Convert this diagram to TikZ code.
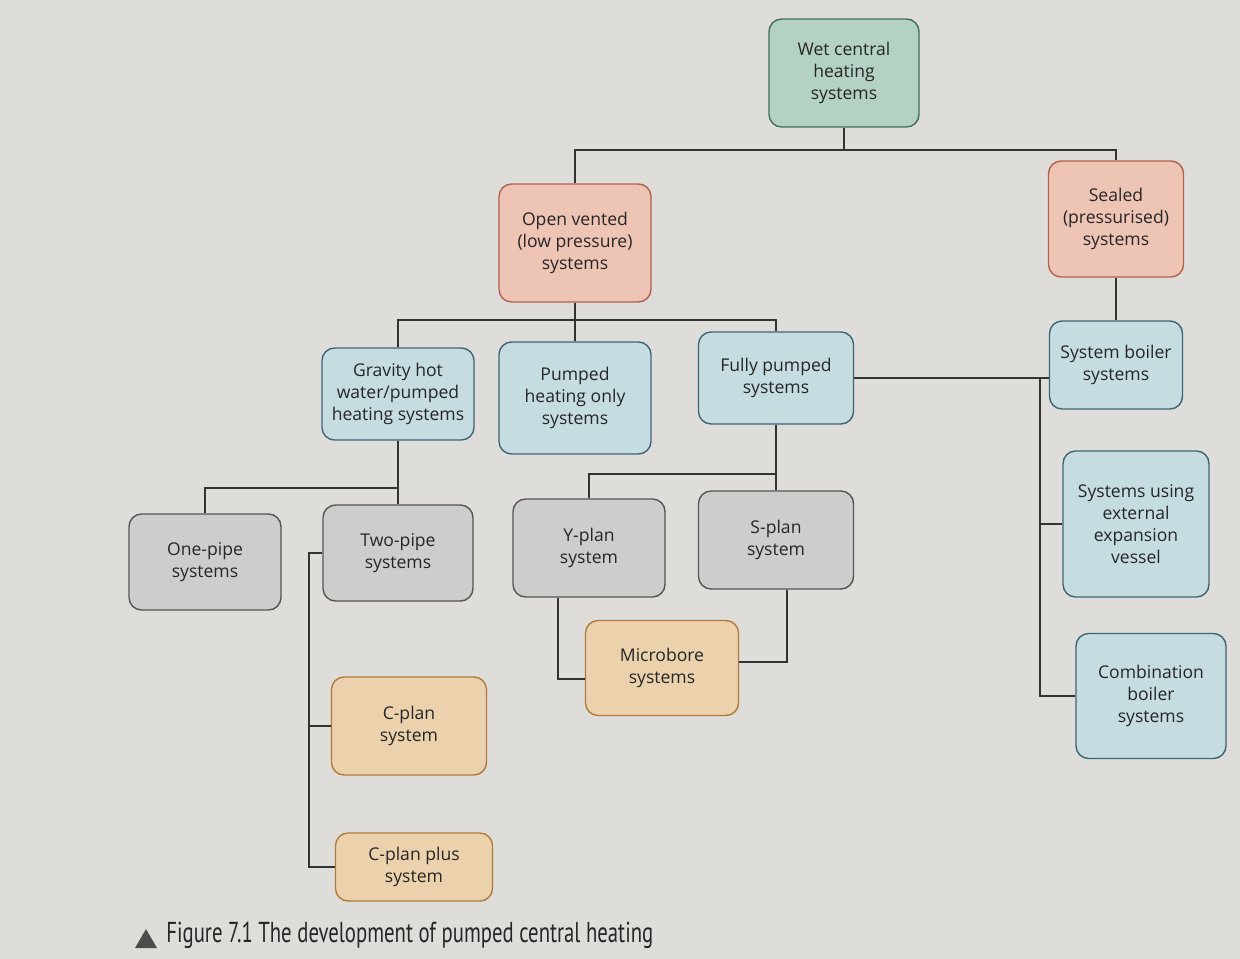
\documentclass[tikz,border=0pt]{standalone}
\usepackage{fontspec}
\setmainfont{Open Sans}
\newfontfamily\capfont[FakeStretch=0.72]{PT Sans}
\usepackage{tikz}
\usetikzlibrary{positioning}
\usepackage{xcolor}

\definecolor{paper}{HTML}{DFDDD9}
\definecolor{wetfill}{HTML}{B3D2C3}
\definecolor{wetline}{HTML}{3F6D5F}
\definecolor{redfill}{HTML}{EEC4B4}
\definecolor{redline}{HTML}{B0604C}
\definecolor{bluefill}{HTML}{C5DCE1}
\definecolor{blueline}{HTML}{3F6478}
\definecolor{greyfill}{HTML}{CDCDCC}
\definecolor{greyline}{HTML}{555555}
\definecolor{tanfill}{HTML}{EBD1AC}
\definecolor{tanline}{HTML}{B07A3C}
\definecolor{linkgrey}{HTML}{333333}

\tikzset{
  box/.style={draw, rounded corners=0.25cm, line width=0.8pt, align=center,
    inner sep=2pt, text=black!85, font=\fontsize{10}{12.5}\selectfont},
  wetbox/.style={box, fill=wetfill, draw=wetline},
  redbox/.style={box, fill=redfill, draw=redline},
  bluebox/.style={box, fill=bluefill, draw=blueline},
  greybox/.style={box, fill=greyfill, draw=greyline},
  tanbox/.style={box, fill=tanfill, draw=tanline},
  link/.style={line width=0.7pt, draw=linkgrey}
}

\begin{document}
\begin{tikzpicture}[x=0.02cm, y=-0.02cm]
    % Fundo da página
    \fill[paper] (0,0) rectangle (1240,959);
    \useasboundingbox (0,0) rectangle (1240,959);

    % Topo
    \node[wetbox, minimum width=3cm, minimum height=2.16cm] (wet) at (844,73) {Wet central\\heating\\systems};
    \node[redbox, minimum width=3.04cm, minimum height=2.36cm] (open) at (575,243) {Open vented\\(low pressure)\\systems};
    \node[redbox, minimum width=2.7cm, minimum height=2.32cm] (sealed) at (1116,219) {Sealed\\(pressurised)\\systems};

    % Segundo nível
    \node[bluebox, minimum width=3.04cm, minimum height=1.84cm] (gravity) at (398,394) {Gravity hot\\water/pumped\\heating systems};
    \node[bluebox, minimum width=3.04cm, minimum height=2.24cm] (pumped) at (575,398) {Pumped\\heating only\\systems};
    \node[bluebox, minimum width=3.1cm, minimum height=1.84cm] (fully) at (776,378) {Fully pumped\\systems};
    \node[bluebox, minimum width=2.66cm, minimum height=1.76cm] (sysboiler) at (1116,365) {System boiler\\systems};
    \node[bluebox, minimum width=2.92cm, minimum height=2.92cm] (extvessel) at (1136,524) {Systems using\\external\\expansion\\vessel};
    \node[bluebox, minimum width=3cm, minimum height=2.5cm] (combi) at (1151,696) {Combination\\boiler\\systems};

    % Terceiro nível
    \node[greybox, minimum width=3.04cm, minimum height=1.92cm] (onepipe) at (205,562) {One-pipe\\systems};
    \node[greybox, minimum width=3cm, minimum height=1.92cm] (twopipe) at (398,553) {Two-pipe\\systems};
    \node[greybox, minimum width=3.04cm, minimum height=1.96cm] (yplan) at (589,548) {Y-plan\\system};
    \node[greybox, minimum width=3.1cm, minimum height=1.96cm] (splan) at (776,540) {S-plan\\system};

    % Quarto nível
    \node[tanbox, minimum width=3.06cm, minimum height=1.9cm] (microbore) at (662,668) {Microbore\\systems};
    \node[tanbox, minimum width=3.1cm, minimum height=1.96cm] (cplan) at (409,726) {C-plan\\system};
    \node[tanbox, minimum width=3.14cm, minimum height=1.36cm] (cplanplus) at (414,867) {C-plan plus\\system};

    % Pontos das ligações
    \coordinate (busA) at (844,150);
    \coordinate (busB) at (575,320);
    \coordinate (busC) at (398,488);
    \coordinate (busD) at (776,474);
    \coordinate (railL) at (309,553);
    \coordinate (railR) at (1040,378);

    % Ligações
    \draw[link] (wet) -- (busA);
    \draw[link] (open.north) |- (busA) -| (sealed.north);
    \draw[link] (sealed) -- (sysboiler);
    \draw[link] (open) -- (pumped);
    \draw[link] (gravity.north) |- (busB) -| (fully.north);
    \draw[link] (gravity) -- (twopipe);
    \draw[link] (onepipe.north) |- (busC);
    \draw[link] (fully) -- (splan);
    \draw[link] (yplan.north) |- (busD);
    \draw[link] ([xshift=-0.62cm]yplan.south) |- ([yshift=-0.22cm]microbore.west);
    \draw[link] ([xshift=0.22cm]splan.south) |- ([yshift=0.12cm]microbore.east);
    \draw[link] (twopipe.west) -- (railL) |- (cplanplus.west);
    \draw[link] (cplan.west) -- (cplan.west -| railL);
    \draw[link] (fully.east) -- (fully.east -| sysboiler.west);
    \draw[link] (railR) |- (combi.west);
    \draw[link] (extvessel.west) -- (extvessel.west -| railR);

    % Legenda
    \fill[black!70] (135,948) -- (157,948) -- (146,929) -- cycle;
    \node[anchor=base west, inner sep=0pt, text=black!85] (caption) at (166,942) {\capfont\fontsize{16.4}{18}\selectfont Figure 7.1 The development of pumped central heating};
\end{tikzpicture}
\end{document}
